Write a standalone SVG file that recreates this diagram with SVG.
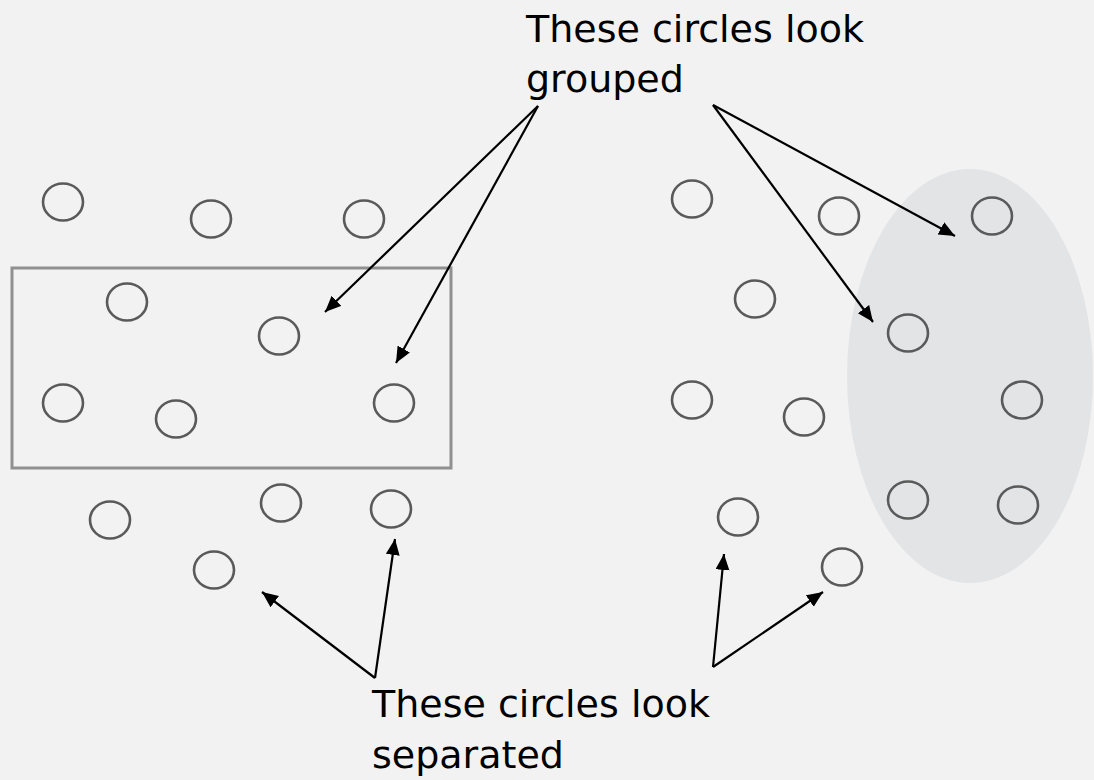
<svg xmlns="http://www.w3.org/2000/svg" width="1094" height="780" viewBox="0 0 1094 780">
<defs>
<marker id="ah" markerUnits="userSpaceOnUse" markerWidth="18" markerHeight="16" refX="16" refY="7" orient="auto">
<path d="M0,0 L16,7 L0,14 Z" fill="#000"/>
</marker>
<style>
.c{fill:none;stroke:#5a5a5a;stroke-width:2.6}
.t{font-family:"DejaVu Sans","Liberation Sans",sans-serif;font-size:38px;fill:#000}
.a{stroke:#000;stroke-width:2.2;fill:none;marker-end:url(#ah)}
</style>
</defs>
<rect width="1094" height="780" fill="#f2f2f2"/>
<g id="grouping-shapes">
<ellipse cx="970" cy="376" rx="123" ry="207" fill="#e3e4e6"/>
<rect x="12" y="268" width="439" height="200" fill="none" stroke="#909090" stroke-width="3"/>
</g>
<g id="left-circles">
<ellipse class="c" cx="63" cy="202" rx="20" ry="18.5"/>
<ellipse class="c" cx="211" cy="219" rx="20" ry="18.5"/>
<ellipse class="c" cx="364" cy="219" rx="20" ry="18.5"/>
<ellipse class="c" cx="127" cy="302" rx="20" ry="18.5"/>
<ellipse class="c" cx="279" cy="336" rx="20" ry="18.5"/>
<ellipse class="c" cx="63" cy="403" rx="20" ry="18.5"/>
<ellipse class="c" cx="176" cy="419" rx="20" ry="18.5"/>
<ellipse class="c" cx="394" cy="403" rx="20" ry="18.5"/>
<ellipse class="c" cx="110" cy="520" rx="20" ry="18.5"/>
<ellipse class="c" cx="281" cy="503" rx="20" ry="18.5"/>
<ellipse class="c" cx="391" cy="509" rx="20" ry="18.5"/>
<ellipse class="c" cx="214" cy="570" rx="20" ry="18.5"/>
</g>
<g id="right-circles">
<ellipse class="c" cx="692" cy="199" rx="20" ry="18.5"/>
<ellipse class="c" cx="839" cy="216" rx="20" ry="18.5"/>
<ellipse class="c" cx="992" cy="216" rx="20" ry="18.5"/>
<ellipse class="c" cx="755" cy="299" rx="20" ry="18.5"/>
<ellipse class="c" cx="908" cy="333" rx="20" ry="18.5"/>
<ellipse class="c" cx="692" cy="400" rx="20" ry="18.5"/>
<ellipse class="c" cx="804" cy="417" rx="20" ry="18.5"/>
<ellipse class="c" cx="1022" cy="400" rx="20" ry="18.5"/>
<ellipse class="c" cx="908" cy="500" rx="20" ry="18.5"/>
<ellipse class="c" cx="1018" cy="505" rx="20" ry="18.5"/>
<ellipse class="c" cx="738" cy="517" rx="20" ry="18.5"/>
<ellipse class="c" cx="842" cy="567" rx="20" ry="18.5"/>
</g>
<g id="label-grouped">
<text class="t" x="526" y="42">These circles look</text>
<text class="t" x="526" y="92">grouped</text>
</g>
<g id="label-separated">
<text class="t" x="372" y="717">These circles look</text>
<text class="t" x="372" y="768">separated</text>
</g>
<g id="connectors">
<line class="a" x1="538" y1="106" x2="325" y2="312"/>
<line class="a" x1="538" y1="106" x2="396" y2="363"/>
<line class="a" x1="713" y1="105" x2="955" y2="236"/>
<line class="a" x1="713" y1="105" x2="873" y2="322"/>
<line class="a" x1="375" y1="678" x2="262" y2="592"/>
<line class="a" x1="375" y1="678" x2="395" y2="539"/>
<line class="a" x1="713" y1="667" x2="724" y2="554"/>
<line class="a" x1="713" y1="667" x2="823" y2="592"/>
</g>
</svg>
